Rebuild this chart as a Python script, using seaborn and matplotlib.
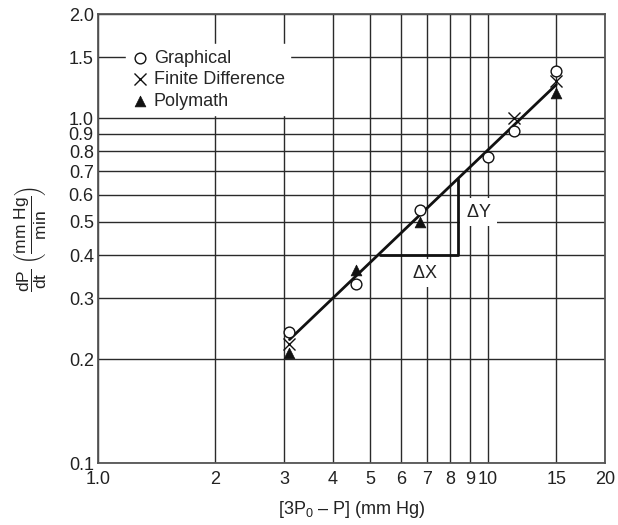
import matplotlib
matplotlib.use('Agg')
import matplotlib.pyplot as plt
import seaborn as sb
import pandas as pd

# data
graph_x = [3.1, 4.6, 6.7, 10.0, 11.7, 15.0]
graph_y = [0.24, 0.33, 0.54, 0.77, 0.92, 1.37]
fd_x = [3.1, 11.7, 15.0]
fd_y = [0.222, 1.0, 1.28]
poly_x = [3.1, 4.6, 6.7, 15.0]
poly_y = [0.208, 0.363, 0.50, 1.18]

fit_x = [3.1, 15.0]
fit_y = [0.228, 1.25]

# slope triangle
tri_x = [5.28, 8.4, 8.4]
tri_y = [0.40, 0.40, 0.665]

x_ticks = [1, 2, 3, 4, 5, 6, 7, 8, 9, 10, 15, 20]
x_labels = ['1.0', '2', '3', '4', '5', '6', '7', '8', '9', '10', '15', '20']
y_ticks = [0.1, 0.2, 0.3, 0.4, 0.5, 0.6, 0.7, 0.8, 0.9, 1.0, 1.5, 2.0]
y_labels = ['0.1', '0.2', '0.3', '0.4', '0.5', '0.6', '0.7', '0.8', '0.9', '1.0', '1.5', '2.0']

sb.set_style('white')
plt.rcParams['font.family'] = ['Liberation Sans', 'DejaVu Sans']
plt.rcParams['mathtext.fontset'] = 'custom'
plt.rcParams['mathtext.rm'] = 'Liberation Sans'
plt.rcParams['mathtext.it'] = 'Liberation Sans'

fig = plt.figure(figsize=(6.18, 5.25), dpi=100)
ax = fig.add_axes([0.1586, 0.118, 0.8204, 0.855])
ax.set_xscale('log')
ax.set_yscale('log')
ax.set_xlim(1, 20)
ax.set_ylim(0.1, 2.0)

ax.set_xticks(x_ticks)
ax.set_xticklabels(x_labels)
ax.set_yticks(y_ticks)
ax.set_yticklabels(y_labels)
ax.minorticks_off()
ax.tick_params(length=0, labelsize=13, colors='#222222')
ax.tick_params(axis='y', pad=3)
ax.tick_params(axis='x', pad=6)
ax.grid(True, color='#2a2a2a', linewidth=1.0)
ax.set_axisbelow(True)
for s in ax.spines.values():
    s.set_color('#555555')
    s.set_linewidth(1.3)

sb.lineplot(x=fit_x, y=fit_y, ax=ax, color='#111111', linewidth=2.0, sort=False, estimator=None, zorder=3)
sb.lineplot(x=tri_x, y=tri_y, ax=ax, color='#111111', linewidth=2.0, sort=False, estimator=None, zorder=3)

sb.scatterplot(x=graph_x, y=graph_y, ax=ax, marker='o', s=60, facecolor='white',
               edgecolor='#111111', linewidth=1.0, label='Graphical', zorder=4)
sb.scatterplot(x=fd_x, y=fd_y, ax=ax, marker='x', s=75, color='#111111',
               linewidth=1.0, label='Finite Difference', zorder=4)
sb.scatterplot(x=poly_x, y=poly_y, ax=ax, marker='^', s=60, color='#111111',
               edgecolor='#111111', linewidth=0.5, label='Polymath', zorder=4)

ax.text(6.89, 0.355, r'$\Delta$X', fontsize=13, ha='center', va='center', color='#222222',
        bbox=dict(facecolor='white', edgecolor='none', pad=4), zorder=5)
ax.text(9.48, 0.534, r'$\Delta$Y', fontsize=13, ha='center', va='center', color='#222222',
        bbox=dict(facecolor='white', edgecolor='none', pad=4), zorder=5)

leg = ax.legend(loc='upper left', bbox_to_anchor=(0.055, 0.933), frameon=True, fancybox=False,
                fontsize=13, handletextpad=0.25, borderpad=0.3, labelspacing=0.25,
                handlelength=1.0, borderaxespad=0)
leg.get_frame().set_facecolor('white')
leg.get_frame().set_edgecolor('white')
leg.get_frame().set_alpha(1)

ax.set_xlabel(r'[3P$_0$ – P] (mm Hg)', fontsize=13, color='#222222', labelpad=8)
ax.set_ylabel(r'$\dfrac{\mathrm{dP}}{\mathrm{dt}}\ \left(\dfrac{\mathrm{mm\ Hg}}{\mathrm{min}}\right)$',
              fontsize=12.5, color='#222222', labelpad=14)

fig.savefig('out.png', dpi=100)
